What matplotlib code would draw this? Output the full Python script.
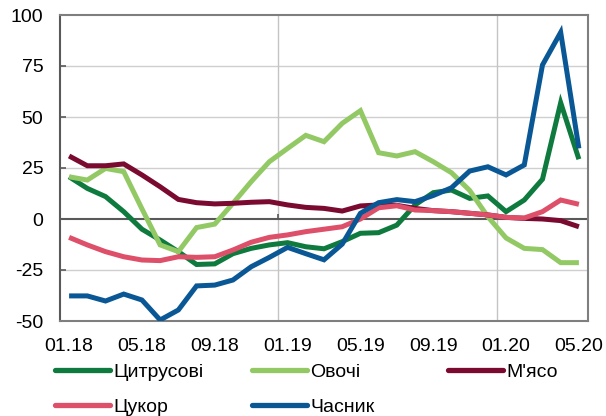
import numpy as np
import matplotlib
matplotlib.use("Agg")
import matplotlib.pyplot as plt

plt.rcParams['font.family'] = ['Liberation Sans', 'DejaVu Sans']
plt.rcParams['axes.unicode_minus'] = False

months = ["01.18", "02.18", "03.18", "04.18", "05.18", "06.18", "07.18", "08.18", "09.18", "10.18",
          "11.18", "12.18", "01.19", "02.19", "03.19", "04.19", "05.19", "06.19", "07.19", "08.19",
          "09.19", "10.19", "11.19", "12.19", "01.20", "02.20", "03.20", "04.20", "05.20"]

citrus = [20.7, 15, 11, 3.6, -5, -10.3, -16, -22.3, -22, -17, -14.4, -12.7, -11.6, -13.6, -14.6,
          -11.1, -7, -6.7, -3, 6.9, 12.9, 14.2, 10.1, 11.3, 3.6, 9.3, 19.5, 57, 29.3]
vegetables = [20.7, 19.1, 24.8, 23.2, 5, -12.7, -16, -4.2, -2.5, 7.7, 18.3, 28.1, 34.6, 41, 37.9,
              46.9, 53.1, 32.5, 30.9, 33, 28.1, 22.7, 14, 1.1, -9.3, -14.4, -15, -21.4, -21.4]
meat = [30.9, 26.1, 26.1, 27, 21.6, 15.8, 9.6, 8, 7.4, 7.7, 8.2, 8.5, 6.9, 5.7, 5.2,
        3.9, 6.4, 6.9, 6.7, 5.2, 4.1, 3.6, 2.8, 2, 0.8, 0.3, 0, -0.8, -3.8]
sugar = [-9, -12.7, -16, -18.5, -20.1, -20.4, -18.5, -18.8, -18.5, -15.2, -11.4, -9, -7.8, -6.2, -5,
         -3.8, 0, 5.5, 6.5, 4.4, 4.1, 3.6, 2.8, 2, 0.8, 0.5, 3.6, 9.3, 7.2]
garlic = [-37.7, -37.7, -40.2, -36.8, -39.7, -49.5, -44.6, -32.8, -32.4, -29.9, -23.4, -18.8, -13.9, -17, -20,
          -12.3, 2.8, 8, 9.5, 8.5, 11.5, 15.3, 23.5, 25.6, 21.6, 26.5, 75.5, 91.5, 34.6]

series_names = ["Цитрусові", "Овочі", "М'ясо", "Цукор", "Часник"]
colors = ["#0e7a3e", "#93c965", "#7a0a30", "#de4f69", "#0a5796"]

xtick_labels = ["01.18", "05.18", "09.18", "01.19", "05.19", "09.19", "01.20", "05.20"]
ytick_values = [100, 75, 50, 25, 0, -25, -50]

W, H = 606, 416
fig = plt.figure(figsize=(W / 100, H / 100), dpi=100)
ax = fig.add_axes([60 / W, 1 - 321 / H, 528 / W, 306 / H])

x = np.arange(len(months))
data = [citrus, vegetables, meat, sugar, garlic]
lines = []
for vals, name, c in zip(data, series_names, colors):
    ln, = ax.plot(x, vals, color=c, lw=3.6, solid_capstyle='butt', solid_joinstyle='miter',
                  label=name, zorder=3)
    lines.append(ln)

ax.set_xlim(-0.5, len(months) - 0.5)
ax.set_ylim(-50, 100)

# grid
for v in [75, 50, 25, -25]:
    ax.axhline(v, color='#cfcfcf', lw=1.0, zorder=1)
for b in [11.5, 23.5]:
    ax.axvline(b, color='#c4c4c4', lw=1.0, zorder=1)
    ax.vlines(b, 0, 2.5, color='#595959', lw=1.2, zorder=2)
ax.axhline(0, color='#595959', lw=1.5, zorder=2)

for s in ax.spines.values():
    s.set_color('#7f7f7f')
    s.set_linewidth(1.5)
ax.spines['left'].set_color('#595959')

ax.set_yticks(ytick_values)
ax.set_yticklabels([str(v) for v in ytick_values], fontsize=14)
ax.tick_params(axis='y', direction='in', length=4, width=1.2, color='#595959', pad=12)

xt = [months.index(lbl) for lbl in xtick_labels]
ax.set_xticks(xt)
ax.set_xticklabels(xtick_labels, fontsize=14)
ax.tick_params(axis='x', length=0, pad=12)

# legend in three columns
groups = [[0, 3], [1, 4], [2]]
xs = [55, 252, 448]
for g, xp in zip(groups, xs):
    leg = fig.legend([lines[i] for i in g], [series_names[i] for i in g],
                     loc='upper left', bbox_to_anchor=(xp / W, 1 - 363 / H),
                     frameon=False, fontsize=14, handlelength=2.85, handletextpad=0.15,
                     labelspacing=0.92, borderpad=0, borderaxespad=0)
    for h in leg.legend_handles:
        h.set_linewidth(3.8)
        h.set_solid_capstyle('round')

fig.savefig("out.png", dpi=100)
